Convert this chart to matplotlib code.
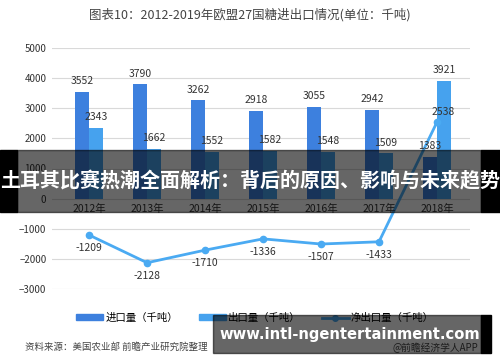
import numpy as np
import matplotlib
matplotlib.use('Agg')
import matplotlib.pyplot as plt
from matplotlib.patches import Rectangle
from matplotlib.lines import Line2D
from matplotlib.patches import Patch

plt.rcParams['font.family'] = ['Noto Sans CJK SC', 'DejaVu Sans']

years = ['2012年', '2013年', '2014年', '2015年', '2016年', '2017年', '2018年']
imports = [3552, 3790, 3262, 2918, 3055, 2942, 1383]
exports = [2343, 1662, 1552, 1582, 1548, 1509, 3921]
net = [-1209, -2128, -1710, -1336, -1507, -1433, 2538]

c_imp = '#3d80de'
c_exp = '#46a2ee'
c_net = '#4aaaf2'

fig = plt.figure(figsize=(5, 3.62), dpi=100)
ax = fig.add_axes([52/500, 1-289/362, (470-52)/500, (289-48)/362])

x = np.arange(len(years))
w = 0.24
ax.bar(x - w/2, imports, w, color=c_imp, zorder=2)
ax.bar(x + w/2, exports, w, color=c_exp, zorder=2)
ax.plot(x, net, color=c_net, lw=2, marker='o', ms=4.5, zorder=3)

for i in range(len(years)):
    ax.annotate(str(imports[i]), (x[i] - w/2, imports[i]), xytext=(0, 4),
                textcoords='offset points', ha='center', va='bottom', fontsize=7.5, color='#333333')
    ax.annotate(str(exports[i]), (x[i] + w/2, exports[i]), xytext=(0, 4),
                textcoords='offset points', ha='center', va='bottom', fontsize=7.5, color='#333333')
    if net[i] < 0:
        ax.annotate(str(net[i]), (x[i], net[i]), xytext=(0, -6),
                    textcoords='offset points', ha='center', va='top', fontsize=7.5, color='#333333')
    else:
        ax.annotate(str(net[i]), (x[i] + 0.1, net[i]), xytext=(0, 4),
                    textcoords='offset points', ha='center', va='bottom', fontsize=7.5, color='#333333')
    ax.annotate(years[i], (x[i], 0), xytext=(0, -4), textcoords='offset points',
                ha='center', va='top', fontsize=7.5, color='#333333')

ax.set_xlim(-0.64, 6.57)
ax.set_ylim(-3000, 5000)
ax.set_yticks(np.arange(-3000, 5001, 1000))
ax.set_xticks([])
ax.tick_params(axis='y', length=0, labelsize=7, labelcolor='#333333', pad=4)
ax.grid(axis='y', color='#d9d9d9', lw=0.8, zorder=0)
for s in ax.spines.values():
    s.set_visible(False)

fig.text(0.5, 1-15/362, '图表10：2012-2019年欧盟27国糖进出口情况(单位：千吨)',
         ha='center', va='center', fontsize=9, color='#444444')

handles = [Patch(color=c_imp), Patch(color=c_exp),
           Line2D([], [], color=c_net, lw=2, marker='o', ms=4)]
fig.legend(handles, ['进口量（千吨）', '出口量（千吨）', '净出口量（千吨）'],
           loc='center', bbox_to_anchor=(0.51, 1-318/362), ncol=3, frameon=False,
           fontsize=7.5, handlelength=2.6, handleheight=0.5, columnspacing=2.0,
           handletextpad=0.2)

fig.text(25/500, 1-347/362, '资料来源：美国农业部 前瞻产业研究院整理', ha='left', va='center',
         fontsize=6.8, color='#444444', style='italic')
fig.text(478/500, 1-348/362, '@前瞻经济学人APP', ha='right', va='center',
         fontsize=7, color='#444444')

# overlay banners
fig.patches.append(Rectangle((0, 1-212/362), 17/500, 62/362, transform=fig.transFigure,
                             color='black', zorder=10))
fig.patches.append(Rectangle((481/500, 1-212/362), 19/500, 62/362, transform=fig.transFigure,
                             color='black', zorder=10))
fig.patches.append(Rectangle((17/500, 1-212/362), 464/500, 62/362, transform=fig.transFigure,
                             color='black', alpha=0.6, zorder=10))
fig.text(0.5, 1-181/362, '土耳其比赛热潮全面解析：背后的原因、影响与未来趋势', ha='center', va='center',
         fontsize=14.4, color='white', fontweight='bold', zorder=11)

fig.patches.append(Rectangle((213/500, 1-353/362), 268/500, 38/362, transform=fig.transFigure,
                             color='black', alpha=0.6, zorder=10))
fig.patches.append(Rectangle((481/500, 1-353/362), 10/500, 38/362, transform=fig.transFigure,
                             color='black', zorder=10))
fig.text(350/500, 1-334/362, 'www.intl-ngentertainment.com', ha='center', va='center',
         fontsize=10.6, color='white', fontweight='bold', family='DejaVu Sans', zorder=11)

fig.savefig('out.png', dpi=100)
